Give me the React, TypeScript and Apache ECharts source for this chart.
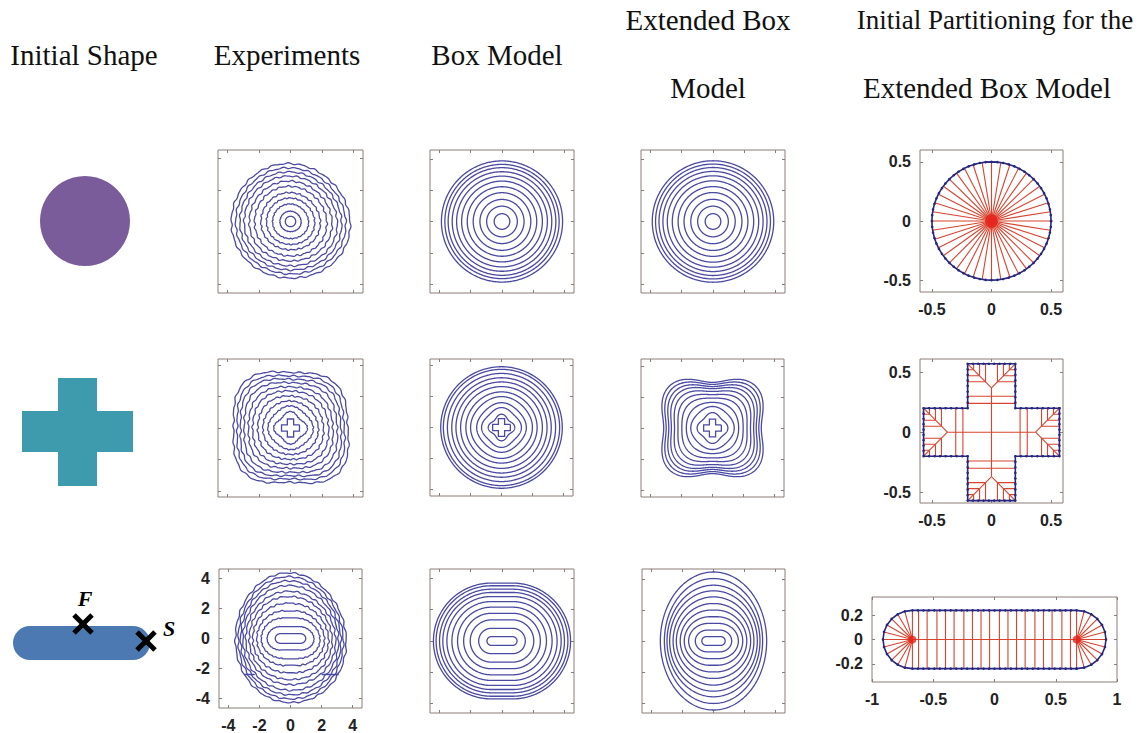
import { useEffect, useRef } from "react";
import * as echarts from "echarts";

// ---------------- texts & ticks ----------------
const headerTexts = ["Initial Shape", "Experiments", "Box Model", "Extended Box", "Model", "Initial Partitioning for the", "Extended Box Model"];
const contourTicks = [-4, -2, 0, 2, 4];
const partTicks = [-0.5, 0, 0.5];
const stadiumXTicks = [-1, -0.5, 0, 0.5, 1];
const stadiumYTicks = [-0.2, 0, 0.2];

// ---------------- row 1 (disk) contour radii ----------------
const exp1Radii = [0.33, 0.66, 1.12, 1.5, 1.85, 2.25, 2.58, 2.9, 3.17, 3.43, 3.7];
const box1Radii = [0.5, 0.98, 1.41, 1.84, 2.22, 2.58, 2.9, 3.18, 3.44, 3.65, 3.87];
const ext1Radii = [0.5, 0.98, 1.42, 1.85, 2.23, 2.6, 2.92, 3.2, 3.45, 3.67, 3.88];

// ---------------- row 2 (cross) contours: mean radius, 4-fold lobe, 2-fold stretch ----------------
const crossArm = 0.57;
const crossHalf = 0.2;
const exp2R = [0.94, 1.36, 1.73, 2.09, 2.44, 2.74, 3.05, 3.32, 3.56, 3.82];
const exp2A = [0.12, 0.04, 0, -0.02, -0.03, -0.04, -0.05, -0.06, -0.065, -0.07];
const box2R = [0.75, 1.21, 1.55, 1.96, 2.28, 2.63, 2.93, 3.2, 3.48, 3.74, 3.91];
const box2A = [0.14, 0.06, 0.03, 0.015, 0.005, 0, 0, 0, 0, 0, 0];
const ext2R = [0.9, 1.35, 1.7, 2.05, 2.35, 2.62, 2.86, 3.06, 3.26, 3.45];
const ext2A = [0.1, 0.03, -0.02, -0.05, -0.07, -0.085, -0.095, -0.105, -0.113, -0.12];
const ext2B = [0, 0.005, 0.01, 0.012, 0.015, 0.018, 0.02, 0.024, 0.027, 0.03];

// ---------------- row 3 (capsule) contours: straight half-length, x extent, y extent ----------------
const exp3S = [0.65, 0.6, 0.45, 0.3, 0.2, 0.1, 0, 0, 0, 0, 0];
const exp3X = [0.98, 1.49, 1.86, 2.14, 2.4, 2.62, 2.84, 3.02, 3.17, 3.32, 3.5];
const exp3Y = [0.32, 0.8, 1.37, 1.86, 2.35, 2.81, 3.17, 3.56, 3.87, 4.15, 4.4];
const exp3Marks = [[[-3.0, -2.4], [-2.3, -2.4]], [[2.0, -2.4], [3.1, -2.4]]];
const box3S = 0.68;
const box3R = [0.28, 0.81, 1.35, 1.77, 2.16, 2.52, 2.84, 3.1, 3.31, 3.53, 3.7];
const ext3S = [0.47, 0.4, 0.35, 0.25, 0.15, 0.05, 0, 0, 0, 0, 0];
const ext3X = [0.75, 1.17, 1.6, 1.88, 2.14, 2.39, 2.6, 2.82, 2.99, 3.16, 3.42];
const ext3Y = [0.28, 0.7, 1.13, 1.56, 1.99, 2.41, 2.84, 3.23, 3.59, 4.02, 4.44];

// experimental roughness: fine ripple (absolute, grows with size) + common low-order distortion (relative)
const rippleFreq = [26, 41];
const rippleAmp = [0.035, 0.018];
const distortFreq = [2, 3];
const distortAmp = [0.022, 0.012];

// ---------------- partition panels ----------------
const diskRadius = 0.5;
const diskRayCount = 40;
const diskDotCount = 64;
const crossCutLevels = [0.24, 0.3];
const crossRayOffsets = [0.05, 0.1, 0.15];
const stadiumHalf = 0.67;
const stadiumRadius = 0.24;
const stadiumCuts = [-0.62, -0.55, -0.47, -0.4, -0.33, -0.25, -0.18, -0.11, -0.04, 0.04, 0.11, 0.18, 0.25, 0.33, 0.4, 0.47, 0.55, 0.62];
const stadiumRayAngles = [-90, -75, -60, -45, -30, -15, 0, 15, 30, 45, 60, 75, 90];

// ---------------- styles ----------------
const contourColor = "#4a4aa2";
const redColor = "#d8442f";
const blueEdge = "#27277e";
const frameColor = "#8a7d76";
const labelFont = "Liberation Sans";
const serif = "Liberation Serif";

type Pt = number[];
type Rough = { ripple: (t: number) => number; distort: (t: number) => number } | null;

function rough(k: number, size: number): Rough {
  const scale = Math.min(1, size / 2.2);
  return {
    ripple: (t: number) => {
      let s = 0;
      for (let i = 0; i < rippleFreq.length; i++) s += rippleAmp[i] * Math.sin(rippleFreq[i] * t + (k + 1) * (i + 2) * 1.3);
      return s * scale;
    },
    distort: (t: number) => {
      let s = 0;
      for (let i = 0; i < distortFreq.length; i++) s += distortAmp[i] * Math.cos(distortFreq[i] * t + 0.6 * (i + 1));
      return s;
    },
  };
}

function capsule(s: number, rx: number, ry: number, rg: Rough = null, n = 160): Pt[] {
  const pts: Pt[] = [];
  const push = (cx: number, t: number) => {
    const f = 1 + (rg ? rg.distort(t) : 0);
    const d = rg ? rg.ripple(t) : 0;
    pts.push([cx + rx * Math.cos(t) * f + d * Math.cos(t), ry * Math.sin(t) * f + d * Math.sin(t)]);
  };
  for (let i = 0; i <= n; i++) push(s, -Math.PI / 2 + (i / n) * Math.PI);
  for (let i = 0; i <= n; i++) push(-s, Math.PI / 2 + (i / n) * Math.PI);
  pts.push(pts[0]);
  return pts;
}

function lobed(R: number, A: number, B: number, rg: Rough = null, n = 360): Pt[] {
  const pts: Pt[] = [];
  for (let i = 0; i <= n; i++) {
    const t = (i / n) * Math.PI * 2;
    const r = R * (1 + A * Math.cos(4 * t) + B * Math.cos(2 * t) + (rg ? rg.distort(t) : 0)) + (rg ? rg.ripple(t) : 0);
    pts.push([r * Math.cos(t), r * Math.sin(t)]);
  }
  return pts;
}

function crossPoly(L: number, w: number): Pt[] {
  return [[L, w], [w, w], [w, L], [-w, L], [-w, w], [-L, w], [-L, -w], [-w, -w], [-w, -L], [w, -L], [w, -w], [L, -w], [L, w]];
}

// contour sets
const exp1 = exp1Radii.map((r, k) => lobed(r, 0, 0, k > 0 ? rough(k, r) : null));
const box1 = box1Radii.map((r) => lobed(r, 0, 0));
const ext1 = ext1Radii.map((r) => lobed(r, 0, 0));
const exp2 = [crossPoly(crossArm, crossHalf), ...exp2R.map((r, k) => lobed(r, exp2A[k], 0, rough(k + 3, r)))];
const box2 = [crossPoly(crossArm, crossHalf), ...box2R.map((r, k) => lobed(r, box2A[k], 0))];
const ext2 = [crossPoly(crossArm, crossHalf), ...ext2R.map((r, k) => lobed(r, ext2A[k], ext2B[k]))];
const exp3 = exp3X.map((x, k) => capsule(exp3S[k], x - exp3S[k], exp3Y[k], k > 0 ? rough(k + 6, exp3Y[k]) : null));
const box3 = box3R.map((r) => capsule(box3S, r, r));
const ext3 = ext3X.map((x, k) => capsule(ext3S[k], x - ext3S[k], ext3Y[k]));

// partition geometry
function diskSegments(): Pt[][] {
  const segs: Pt[][] = [];
  for (let i = 0; i < diskRayCount; i++) {
    const t = (i / diskRayCount) * Math.PI * 2;
    segs.push([[0, 0], [diskRadius * Math.cos(t), diskRadius * Math.sin(t)]]);
  }
  return segs;
}
function diskBoundary(): Pt[] {
  const pts: Pt[] = [];
  for (let i = 0; i <= diskDotCount; i++) {
    const t = (i / diskDotCount) * Math.PI * 2;
    pts.push([diskRadius * Math.cos(t), diskRadius * Math.sin(t)]);
  }
  return pts;
}
function crossSegments(): Pt[][] {
  const w = crossHalf, L = crossArm, b = L - w;
  const segs: Pt[][] = [[[0, -b], [0, b]], [[-b, 0], [b, 0]]];
  const rots = [(p: Pt) => p, (p: Pt) => [-p[1], p[0]], (p: Pt) => [-p[0], -p[1]], (p: Pt) => [p[1], -p[0]]];
  for (const R of rots) {
    const add = (a: Pt, c: Pt) => segs.push([R(a), R(c)]);
    add([0, b], [w, L]);
    add([0, b], [-w, L]);
    for (const c of crossCutLevels) add([-w, c], [w, c]);
    for (const t of crossRayOffsets) {
      for (const sg of [1, -1]) {
        add([sg * t, b + t], [sg * t, L]);
        add([sg * t, b + t], [sg * w, b + t]);
      }
    }
  }
  return segs;
}
function dotted(poly: Pt[], step: number): Pt[] {
  const pts: Pt[] = [];
  for (let i = 0; i < poly.length - 1; i++) {
    const a = poly[i], c = poly[i + 1];
    const len = Math.hypot(c[0] - a[0], c[1] - a[1]);
    const n = Math.max(1, Math.round(len / step));
    for (let j = 0; j < n; j++) pts.push([a[0] + ((c[0] - a[0]) * j) / n, a[1] + ((c[1] - a[1]) * j) / n]);
  }
  pts.push(poly[poly.length - 1]);
  return pts;
}
function stadiumSegments(): Pt[][] {
  const segs: Pt[][] = [[[-stadiumHalf, 0], [stadiumHalf, 0]]];
  for (const x of stadiumCuts) segs.push([[x, -stadiumRadius], [x, stadiumRadius]]);
  for (const a of stadiumRayAngles) {
    const t = (a * Math.PI) / 180;
    segs.push([[stadiumHalf, 0], [stadiumHalf + stadiumRadius * Math.cos(t), stadiumRadius * Math.sin(t)]]);
    segs.push([[-stadiumHalf, 0], [-stadiumHalf - stadiumRadius * Math.cos(t), stadiumRadius * Math.sin(t)]]);
  }
  return segs;
}

type Panel = {
  left: number; top: number; width: number; height: number;
  x: [number, number]; y: [number, number]; xt: number[]; yt: number[]; labels: boolean;
};
const cp = (left: number, top: number, width: number, height: number, labels = false): Panel => ({
  left, top, width, height, x: [-4.6, 4.6], y: [(-4.6 * height) / width, (4.6 * height) / width], xt: contourTicks, yt: contourTicks, labels,
});

const panels: Panel[] = [
  cp(218, 150, 145, 143), cp(430, 150, 144, 143), cp(641, 150, 144, 143),
  { left: 920, top: 150, width: 143, height: 142, x: [-0.6, 0.6], y: [-0.6, 0.6], xt: partTicks, yt: partTicks, labels: true },
  cp(218, 359, 145, 138), cp(430, 359, 143, 137), cp(641, 359, 143, 138),
  { left: 920, top: 359, width: 143, height: 144, x: [-0.6, 0.6], y: [-0.59, 0.61], xt: partTicks, yt: partTicks, labels: true },
  cp(219, 569, 143, 144, true), cp(430, 569, 144, 144), cp(642, 569, 143, 144),
  { left: 872, top: 597, width: 245, height: 85, x: [-1, 1], y: [-0.35, 0.35], xt: stadiumXTicks, yt: stadiumYTicks, labels: true },
];

function contourSeries(i: number, curves: Pt[][]) {
  return {
    type: "lines", coordinateSystem: "cartesian2d", xAxisIndex: 2 * i, yAxisIndex: 2 * i,
    polyline: true, silent: true, z: 3,
    lineStyle: { color: contourColor, width: 1.3, opacity: 1 },
    data: curves.map((c) => ({ coords: c })),
  };
}
function segSeries(i: number, segs: Pt[][]) {
  return {
    type: "lines", coordinateSystem: "cartesian2d", xAxisIndex: 2 * i, yAxisIndex: 2 * i,
    polyline: true, silent: true, z: 2,
    lineStyle: { color: redColor, width: 1.1, opacity: 1 },
    data: segs.map((c) => ({ coords: c })),
  };
}
function edgeSeries(i: number, pts: Pt[]) {
  return {
    type: "line", xAxisIndex: 2 * i, yAxisIndex: 2 * i, data: pts, silent: true, z: 4,
    showSymbol: true, showAllSymbol: true, symbol: "circle", symbolSize: 2.6,
    itemStyle: { color: blueEdge }, lineStyle: { color: blueEdge, width: 1.6 },
  };
}
function dotSeries(i: number, pts: Pt[], size: number) {
  return {
    type: "scatter", xAxisIndex: 2 * i, yAxisIndex: 2 * i, data: pts, silent: true, z: 5,
    symbolSize: size, itemStyle: { color: "#e8201c" },
  };
}

function buildOption() {
  const grid: any[] = [];
  const xAxis: any[] = [];
  const yAxis: any[] = [];
  panels.forEach((p, i) => {
    grid.push({ left: p.left, top: p.top, width: p.width, height: p.height, show: true, borderColor: frameColor, borderWidth: 1, backgroundColor: "#fff" });
    const tick = (vals: number[]) => ({ show: true, inside: true, length: 3, lineStyle: { color: frameColor, width: 1 }, customValues: vals });
    const lab = (vals: number[], show: boolean) => ({
      show, customValues: vals, fontSize: 16, fontWeight: "bold", fontFamily: labelFont, color: "#222", margin: 9,
    });
    for (const pos of ["bottom", "top"]) {
      xAxis.push({
        type: "value", gridIndex: i, position: pos, min: p.x[0], max: p.x[1],
        axisLine: { show: false, onZero: false }, splitLine: { show: false }, axisTick: tick(p.xt),
        axisLabel: lab(p.xt, p.labels && pos === "bottom"),
      });
    }
    for (const pos of ["left", "right"]) {
      yAxis.push({
        type: "value", gridIndex: i, position: pos, min: p.y[0], max: p.y[1],
        axisLine: { show: false, onZero: false }, splitLine: { show: false }, axisTick: tick(p.yt),
        axisLabel: lab(p.yt, p.labels && pos === "left"),
      });
    }
  });

  const series: any[] = [
    contourSeries(0, exp1), contourSeries(1, box1), contourSeries(2, ext1),
    segSeries(3, diskSegments()), edgeSeries(3, diskBoundary()), dotSeries(3, [[0, 0]], 13),
    contourSeries(4, exp2), contourSeries(5, box2), contourSeries(6, ext2),
    segSeries(7, crossSegments()), edgeSeries(7, dotted(crossPoly(crossArm, crossHalf), 0.045)),
    contourSeries(8, [...exp3, ...exp3Marks]), contourSeries(9, box3), contourSeries(10, ext3),
    segSeries(11, stadiumSegments()), edgeSeries(11, dotted(capsule(stadiumHalf, stadiumRadius, stadiumRadius, null, 12), 0.045)),
    dotSeries(11, [[-stadiumHalf, 0], [stadiumHalf, 0]], 8),
  ];

  const ht = (text: string, x: number, y: number, size = 29) => ({
    type: "text", x, y, silent: true,
    style: { text, font: `${size}px "${serif}"`, fill: "#111", textAlign: "center", textVerticalAlign: "middle" },
  });
  const xMark = (cx: number, cy: number) => ({
    type: "group", silent: true,
    children: [
      { type: "line", shape: { x1: cx - 9, y1: cy - 9, x2: cx + 9, y2: cy + 9 }, style: { stroke: "#000", lineWidth: 5 } },
      { type: "line", shape: { x1: cx - 9, y1: cy + 9, x2: cx + 9, y2: cy - 9 }, style: { stroke: "#000", lineWidth: 5 } },
    ],
  });
  const graphic: any[] = [
    ht(headerTexts[0], 84, 55), ht(headerTexts[1], 287, 55), ht(headerTexts[2], 497, 55),
    ht(headerTexts[3], 708, 20), ht(headerTexts[4], 708, 88),
    ht(headerTexts[5], 995, 20, 27), ht(headerTexts[6], 987, 88),
    { type: "circle", shape: { cx: 85, cy: 221, r: 45 }, style: { fill: "#7a5c9b" }, silent: true },
    { type: "rect", shape: { x: 22, y: 411, width: 111, height: 41 }, style: { fill: "#3e9bae" }, silent: true },
    { type: "rect", shape: { x: 58, y: 378, width: 39, height: 108 }, style: { fill: "#3e9bae" }, silent: true },
    { type: "rect", shape: { x: 13, y: 626, width: 137, height: 34, r: 17 }, style: { fill: "#4c79b2" }, silent: true },
    xMark(83, 624), xMark(146, 641),
    { type: "text", x: 85, y: 598, silent: true, style: { text: "F", font: `italic bold 22px "${serif}"`, fill: "#000", textAlign: "center", textVerticalAlign: "middle" } },
    { type: "text", x: 169, y: 628, silent: true, style: { text: "S", font: `italic bold 22px "${serif}"`, fill: "#000", textAlign: "center", textVerticalAlign: "middle" } },
  ];

  return { animation: false, backgroundColor: "#fff", grid, xAxis, yAxis, series, graphic };
}

export default function App() {
  const ref = useRef<HTMLDivElement>(null);
  useEffect(() => {
    if (!ref.current) return;
    const chart = echarts.init(ref.current, null, { renderer: "svg" });
    chart.setOption(buildOption() as any);
    return () => chart.dispose();
  }, []);
  return <div ref={ref} style={{ position: "fixed", left: 0, top: 0, width: 1142, height: 733 }} />;
}
